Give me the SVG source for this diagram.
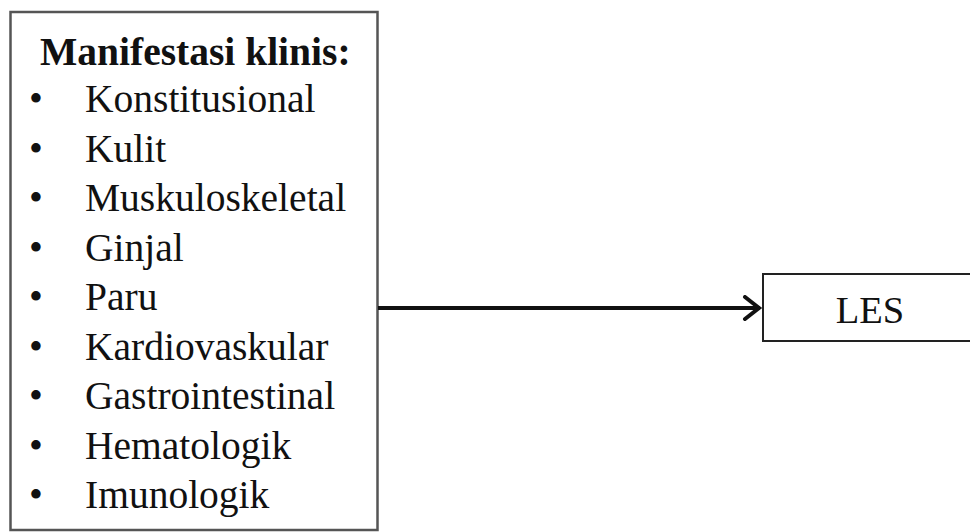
<svg xmlns="http://www.w3.org/2000/svg" width="970" height="532" viewBox="0 0 970 532">
<defs>
<marker id="arrow" markerUnits="userSpaceOnUse" markerWidth="24" markerHeight="30" refX="20" refY="13" orient="auto">
<path d="M5,2 L19,13 L5,24" fill="none" stroke="#111" stroke-width="4" stroke-linecap="round" stroke-linejoin="miter"/>
</marker>
</defs>
<style>
.t{font-family:"Liberation Serif","Times New Roman",serif;fill:#111;font-size:39.5px}
.b{font-weight:bold;font-size:39.5px}
</style>
<rect width="970" height="532" fill="#fff"/>
<g id="manifestasi">
<rect x="10.5" y="12" width="367" height="518" fill="#fff" stroke="#555" stroke-width="2.5"/>
<text class="t b" x="40" y="65">Manifestasi klinis:</text>
<g class="t">
<text x="29" y="112">•</text><text x="85" y="112">Konstitusional</text>
<text x="29" y="161.5">•</text><text x="85" y="161.5">Kulit</text>
<text x="29" y="211">•</text><text x="85" y="211">Muskuloskeletal</text>
<text x="29" y="260.5">•</text><text x="85" y="260.5">Ginjal</text>
<text x="29" y="310">•</text><text x="85" y="310">Paru</text>
<text x="29" y="359.5">•</text><text x="85" y="359.5">Kardiovaskular</text>
<text x="29" y="409">•</text><text x="85" y="409">Gastrointestinal</text>
<text x="29" y="458.5">•</text><text x="85" y="458.5">Hematologik</text>
<text x="29" y="508">•</text><text x="85" y="508">Imunologik</text>
</g>
</g>
<g id="les">
<rect x="763" y="274" width="220" height="67" fill="#fff" stroke="#222" stroke-width="2"/>
<text class="t" x="870" y="323" text-anchor="middle" style="font-size:38.5px">LES</text>
</g>
<g id="connectors">
<line x1="378" y1="308" x2="760" y2="308" stroke="#111" stroke-width="4" marker-end="url(#arrow)"/>
</g>
</svg>
